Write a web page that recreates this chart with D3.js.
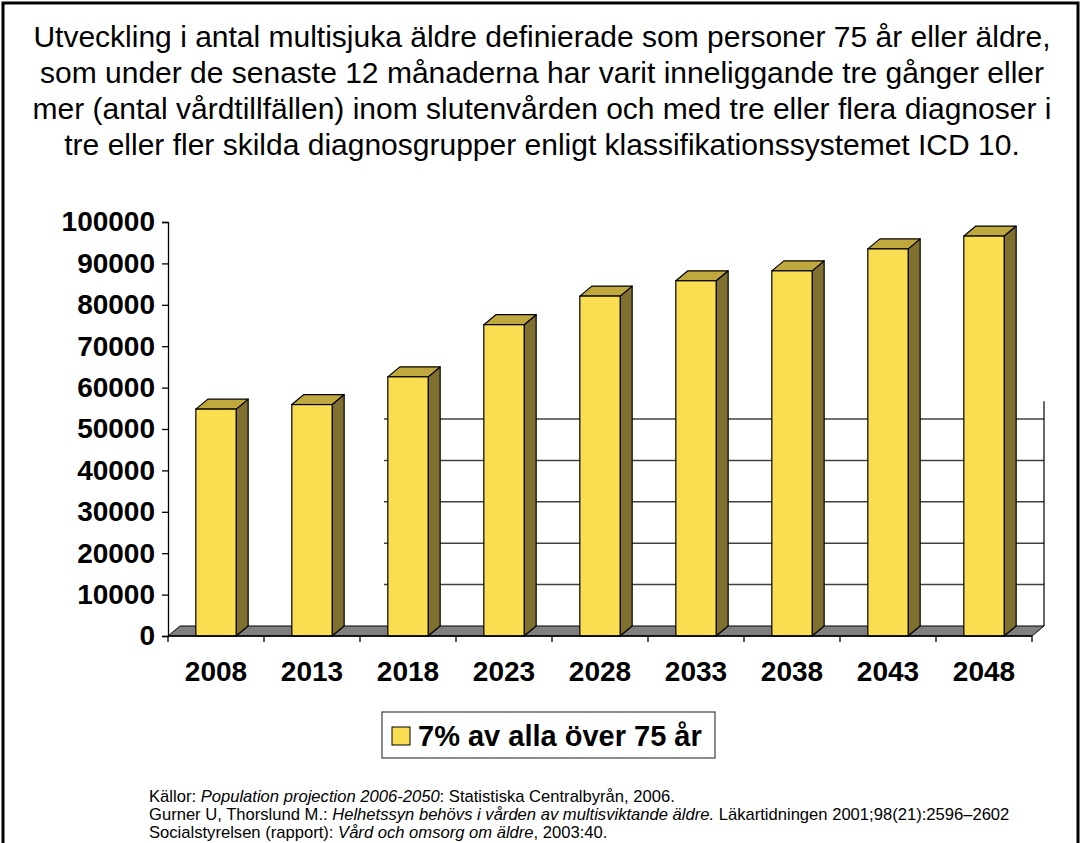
<!DOCTYPE html>
<html>
<head>
<meta charset="utf-8">
<script src="https://cdn.jsdelivr.net/npm/d3@7"></script>
<style>
  body { margin: 0; background: #fff; }
  svg { display: block; font-family: "Liberation Sans", Arial, sans-serif; }
</style>
</head>
<body>
<div id="chart"></div>
<script>
const categories = ["2008", "2013", "2018", "2023", "2028", "2033", "2038", "2043", "2048"];
const values = [54800, 55900, 62600, 75200, 82100, 85800, 88200, 93500, 96600];
const yTickValues = [0, 10000, 20000, 30000, 40000, 50000, 60000, 70000, 80000, 90000, 100000];
const gridValues = [10000, 20000, 30000, 40000, 50000];
const seriesName = "7% av alla över 75 år";

const titleLines = [
    "Utveckling i antal multisjuka äldre definierade som personer 75 år eller äldre,",
    "som under de senaste 12 månaderna har varit inneliggande tre gånger eller",
    "mer (antal vårdtillfällen) inom slutenvården och med tre eller flera diagnoser i",
    "tre eller fler skilda diagnosgrupper enligt klassifikationssystemet ICD 10."
];

// each source line: [text, italic?]
const sources = [
    [["Källor: ", false], ["Population projection 2006-2050", true], [": Statistiska Centralbyrån, 2006.", false]],
    [["Gurner U, Thorslund M.: ", false], ["Helhetssyn behövs i vården av multisviktande äldre.", true], [" Läkartidningen 2001;98(21):2596–2602", false]],
    [["Socialstyrelsen (rapport): ", false], ["Vård och omsorg om äldre", true], [", 2003:40.", false]]
];

const width = 1081, height = 843;
const depthX = 12, depthY = 10;

const colors = { front: "#F9DE52", side: "#807030", top: "#BFA83E", floor: "#808080" };

const svg = d3.select("#chart")
    .append("svg")
    .attr("width", width)
    .attr("height", height);

// outer frame
svg.append("rect")
    .attr("x", 3).attr("y", 3)
    .attr("width", 1075).attr("height", 860)
    .attr("fill", "none")
    .attr("stroke", "#000")
    .attr("stroke-width", 3);

svg.append("g")
    .selectAll("text")
    .data(titleLines)
    .enter()
    .append("text")
    .attr("x", 542)
    .attr("y", (d, i) => 47 + i * 36)
    .attr("text-anchor", "middle")
    .attr("font-size", "30px")
    .attr("fill", "#000")
    .text(d => d);

const x = d3.scaleBand()
    .domain(categories)
    .range([168, 1032])
    .padding(0);

const y = d3.scaleLinear()
    .domain([0, 100000])
    .range([636, 222]);

const barW = x.bandwidth() * 0.42;
const barX = d => x(d) + (x.bandwidth() - barW) / 2;

// back wall gridlines (only drawn from the third category on, like the original)
const gridStart = x(categories[2]) + 24;
const gridEnd = x.range()[1] + depthX;

svg.append("g")
    .selectAll("line")
    .data(gridValues)
    .enter()
    .append("line")
    .attr("x1", gridStart)
    .attr("x2", gridEnd)
    .attr("y1", d => y(d) - depthY)
    .attr("y2", d => y(d) - depthY)
    .attr("stroke", "#404040")
    .attr("stroke-width", 1.5);

svg.append("line")
    .attr("x1", gridEnd).attr("x2", gridEnd)
    .attr("y1", y(54300) - depthY)
    .attr("y2", y(0) - depthY)
    .attr("stroke", "#000")
    .attr("stroke-width", 1.2);

// floor
const x0 = x.range()[0], x1 = x.range()[1], yz = y(0);
svg.append("path")
    .attr("d", `M${x0},${yz} L${x1},${yz} L${x1 + depthX},${yz - depthY} L${x0 + depthX},${yz - depthY} Z`)
    .attr("fill", colors.floor)
    .attr("stroke", "#000")
    .attr("stroke-width", 1);

// bars
const bars = svg.append("g")
    .selectAll("g")
    .data(categories.map((c, i) => ({ cat: c, value: values[i] })))
    .enter()
    .append("g");

bars.append("path")
    .attr("d", d => {
        const l = barX(d.cat), r = l + barW, t = y(d.value);
        return `M${r},${t} L${r + depthX},${t - depthY} L${r + depthX},${yz - depthY} L${r},${yz} Z`;
    })
    .attr("fill", colors.side)
    .attr("stroke", "#000")
    .attr("stroke-width", 1.2)
    .attr("stroke-linejoin", "round");

bars.append("path")
    .attr("d", d => {
        const l = barX(d.cat), r = l + barW, t = y(d.value);
        return `M${l},${t} L${r},${t} L${r + depthX},${t - depthY} L${l + depthX},${t - depthY} Z`;
    })
    .attr("fill", colors.top)
    .attr("stroke", "#000")
    .attr("stroke-width", 1.2)
    .attr("stroke-linejoin", "round");

bars.append("rect")
    .attr("x", d => barX(d.cat))
    .attr("y", d => y(d.value))
    .attr("width", barW)
    .attr("height", d => yz - y(d.value))
    .attr("fill", colors.front)
    .attr("stroke", "#000")
    .attr("stroke-width", 1.2);

// y axis
const yAxis = svg.append("g")
    .attr("transform", `translate(${x0},0)`)
    .call(d3.axisLeft(y).tickValues(yTickValues).tickFormat(d3.format("d")).tickSize(6).tickPadding(7));
yAxis.select(".domain").attr("stroke", "#000").attr("stroke-width", 1.3);
yAxis.selectAll(".tick line").attr("stroke", "#000").attr("stroke-width", 1.3);
yAxis.selectAll("text")
    .attr("font-size", "28px")
    .attr("font-weight", "bold")
    .attr("font-family", "Liberation Sans, Arial, sans-serif")
    .attr("fill", "#000");

// x axis: labels centred, ticks on band edges
const xAxis = svg.append("g")
    .attr("transform", `translate(0,${yz})`)
    .call(d3.axisBottom(x).tickSize(0).tickPadding(25));
xAxis.select(".domain").remove();
xAxis.selectAll("text")
    .attr("font-size", "28px")
    .attr("font-weight", "bold")
    .attr("font-family", "Liberation Sans, Arial, sans-serif")
    .attr("fill", "#000");

svg.append("line")
    .attr("x1", x0).attr("x2", x1)
    .attr("y1", yz).attr("y2", yz)
    .attr("stroke", "#000")
    .attr("stroke-width", 1.3);

svg.append("g")
    .selectAll("line")
    .data(categories.map(c => x(c)).concat([x1]))
    .enter()
    .append("line")
    .attr("x1", d => d).attr("x2", d => d)
    .attr("y1", yz).attr("y2", yz + 6)
    .attr("stroke", "#000")
    .attr("stroke-width", 1.3);

// legend
const legend = svg.append("g").attr("transform", "translate(382,712)");
legend.append("rect")
    .attr("width", 333).attr("height", 46)
    .attr("fill", "#fff")
    .attr("stroke", "#404040")
    .attr("stroke-width", 1.2);
legend.append("rect")
    .attr("x", 10).attr("y", 15)
    .attr("width", 18).attr("height", 18)
    .attr("fill", colors.front)
    .attr("stroke", "#000")
    .attr("stroke-width", 1);
legend.append("text")
    .attr("x", 36).attr("y", 34)
    .attr("font-size", "29px")
    .attr("font-weight", "bold")
    .attr("fill", "#000")
    .text(seriesName);

// sources
const src = svg.append("g")
    .selectAll("text")
    .data(sources)
    .enter()
    .append("text")
    .attr("x", 149)
    .attr("y", (d, i) => 802 + i * 18)
    .attr("font-size", "16.6px")
    .attr("fill", "#000");

src.selectAll("tspan")
    .data(d => d)
    .enter()
    .append("tspan")
    .attr("font-style", d => d[1] ? "italic" : "normal")
    .text(d => d[0]);
</script>
</body>
</html>
